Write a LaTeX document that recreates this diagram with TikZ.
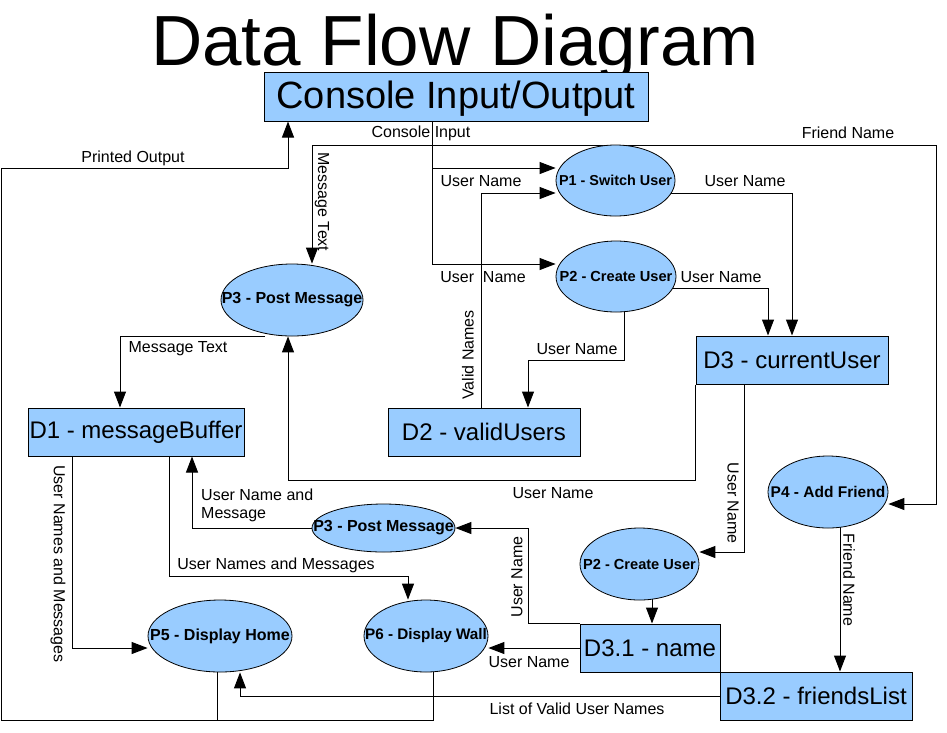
\documentclass[tikz,border=0pt]{standalone}
\usepackage{fontspec}
\setmainfont{Liberation Sans}
\usetikzlibrary{arrows.meta,shapes.geometric,backgrounds}
\definecolor{sky}{HTML}{99CCFF}
\begin{document}
\begin{tikzpicture}[x=1pt,y=-1pt,
  store/.style={draw,fill=sky,line width=1pt,rectangle,inner sep=0pt,font=\fontsize{24}{28}\selectfont},
  proc/.style={draw,fill=sky,line width=0.8pt,ellipse,inner sep=0pt},
  plab/.style={inner sep=0pt,font=\bfseries\fontsize{#1}{#1}\selectfont},
  flow/.style={line width=1pt,-{Triangle[length=16pt,width=12pt]}},
  wire/.style={line width=1pt},
  lab/.style={font=\fontsize{16}{18}\selectfont,inner sep=0pt}]
\useasboundingbox (0,0) rectangle (947,732);

% title
\node[anchor=base,inner sep=0pt,font=\fontsize{71}{80}\selectfont] (title) at (455,65) {Data Flow Diagram};

% stores / external
\node[store,minimum width=384pt,minimum height=49pt,label={[inner sep=0pt,yshift=-2.5pt,font=\fontsize{38}{40}\selectfont]center:Console Input/Output}] (cio) at (456,96.5) {};
\node[store,minimum width=216pt,minimum height=48pt] (D1) at (136,432) {D1 - messageBuffer};
\node[store,minimum width=192pt,minimum height=48pt] (D2) at (484,432) {D2 - validUsers};
\node[store,minimum width=192pt,minimum height=48pt] (D3) at (792,360) {D3 - currentUser};
\node[store,minimum width=140pt,minimum height=48pt] (D31) at (650,648) {D3.1 - name};
\node[store,minimum width=192pt,minimum height=48pt] (D32) at (816,696) {D3.2 - friendsList};

% processes
\node[proc,minimum width=119pt,minimum height=71pt,label={[plab=14.4]center:P1 - Switch User}] (P1) at (615.5,180.5) {};
\node[proc,minimum width=120pt,minimum height=71pt,label={[plab=14.6]center:P2 - Create User}] (P2) at (616,276.5) {};
\node[proc,minimum width=142pt,minimum height=72pt,label={[plab=16]center:P3 - Post Message}] (P3) at (292,300) {};
\node[proc,minimum width=143pt,minimum height=48pt,label={[plab=16]center:P3 - Post Message}] (P3b) at (383.5,528) {};
\node[proc,minimum width=120pt,minimum height=72pt,label={[plab=15.5]center:P4 - Add Friend}] (P4) at (828,492) {};
\node[proc,minimum width=119pt,minimum height=72pt,label={[plab=14.6]center:P2 - Create User}] (P2b) at (639.5,564) {};
\node[proc,minimum width=144pt,minimum height=72pt,label={[plab=16]center:P5 - Display Home}] (P5) at (220,636) {};
\node[proc,minimum width=124pt,minimum height=72pt,label={[plab=15.3]center:P6 - Display Wall}] (P6) at (426,636) {};

% junction coordinates
\coordinate (j0) at (432,145);
\coordinate (j1) at (432,168);
\coordinate (fr) at (936,504);
\coordinate (jD2) at (528,360);
\coordinate (jP3) at (288,480);
\coordinate (jP6) at (408,576);
\coordinate (jP3b) at (528,528);
\coordinate (jB) at (1.5,720);
\coordinate (jPO) at (288,168);

\begin{pgfonlayer}{background}
% console input tree
\draw[flow] (cio.south -| j0) |- (P2.west |- 0,264);
\draw[flow] (j1) -- (P1.west |- j1);
\draw[flow] (j0) -| (P3.north -| 312,0);
\draw[flow] (j0) -| (fr) -- (P4.east |- fr);
% valid names
\draw[flow] (D2.north -| 481,0) |- (P1.west |- 0,193);
% P1, P2 -> D3
\draw[flow] (P1 |- 0,193) -| (D3.north -| 792,0);
\draw[flow] (P2 |- 0,288) -| (D3.north -| 768,0);
% P2 -> D2
\draw[flow] (P2 -| 624,0) |- (jD2) -- (D2.north -| jD2);
% D3 -> P3
\draw[flow] (D3.south west) |- (jP3) -- (P3.south -| jP3);
% P3 -> D1
\draw[flow] (P3.south -| 265,0) -| (D1.north -| 120,0);
% D1 -> P5, P6
\draw[flow] (D1.south -| 72,0) |- (P5.west |- 0,648);
\draw[flow] (D1.south -| 169,0) |- (jP6) -- (P6.north -| jP6);
% P3b -> D1
\draw[flow] (P3b) -| (D1.south -| 192,0);
% D3.1 -> P3b, P6
\draw[flow] (D31.north west) -| (jP3b) -- (P3b.east);
\draw[flow] (D31.west) -- (P6.east |- D31.west);
% D3 -> P2b -> D3.1
\draw[flow] (D3.south -| 744,0) |- (P2b.east |- 0,552);
\draw[flow] (P2b -| 652,0) -- (D31.north -| 652,0);
% P4 -> D3.2
\draw[flow] (P4 -| 840,0) -- (D32.north -| 840,0);
% D3.2 -> P5
\draw[flow] (D32.west) -| (P5.south -| 240,0);
% P5, P6 -> console output
\draw[wire] (P5 -| 217,0) -- (jB -| 217,0);
\draw[flow] (P6 -| 433,0) |- (jB) |- (jPO) -- (cio.south -| jPO);
\end{pgfonlayer}

% labels
\node[lab] (lPO) at (133,158) {Printed Output};
\node[lab] (lCI) at (421,133) {Console Input};
\node[lab] (lFN) at (848,133) {Friend Name};
\node[lab,rotate=-90] (lMT1) at (322,202) {Message Text};
\node[lab] (lUN1) at (481,181) {User Name};
\node[lab] (lUN2) at (745,181) {User Name};
\node[lab] (lUN3) at (483,277) {User~~Name};
\node[lab] (lUN4) at (721,277) {User Name};
\node[lab,rotate=90] (lVN) at (468,355) {Valid Names};
\node[lab] (lUN5) at (577,349) {User Name};
\node[lab] (lMT2) at (178,349) {Message Text};
\node[lab] (lUN6) at (553,493) {User Name};
\node[lab,anchor=north west,align=left] (lUNM) at (201,489) {User Name and\\Message};
\node[lab,rotate=-90] (lUNM1) at (58,564) {User Names and Messages};
\node[lab] (lUNM2) at (276,565) {User Names and Messages};
\node[lab,rotate=90] (lUN7) at (517,577) {User Name};
\node[lab,rotate=-90] (lUN8) at (733,503) {User Name};
\node[lab,rotate=-90] (lFN2) at (849,580) {Friend Name};
\node[lab] (lUN9) at (529,662) {User Name};
\node[lab] (lLV) at (577,709) {List of Valid User Names};
\end{tikzpicture}
\end{document}
